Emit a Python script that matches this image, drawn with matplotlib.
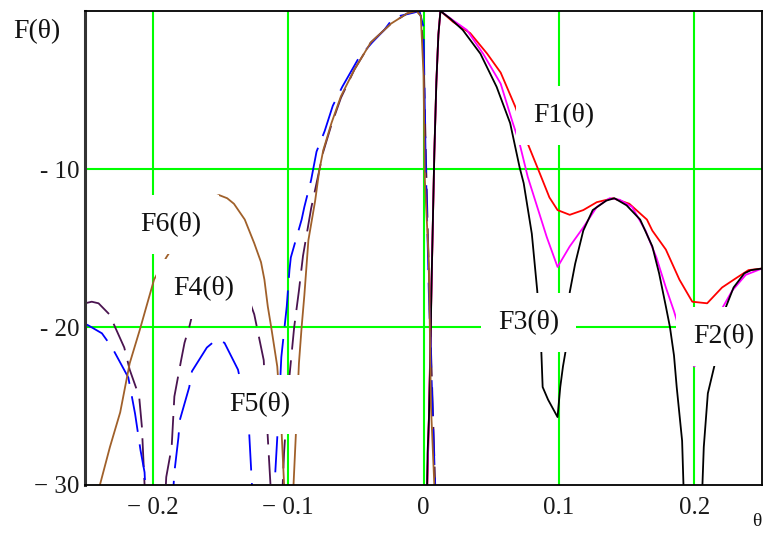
import matplotlib
matplotlib.use("Agg")
import matplotlib.pyplot as plt

# ---------------- data ----------------
theta1 = [0.0025, 0.004, 0.006, 0.008, 0.0095, 0.011, 0.0125, 0.022, 0.0345, 0.047, 0.057,
          0.068, 0.077, 0.086, 0.093, 0.099, 0.108, 0.118, 0.128, 0.140, 0.152, 0.165,
          0.169, 0.179, 0.189, 0.1985, 0.2095, 0.2205, 0.231, 0.240, 0.25]
F1 = [-31, -25.8, -17, -9, -4.5, -1.5, 0, -0.7, -1.4, -2.7, -3.9,
      -6.1, -8.4, -10.3, -11.8, -12.6, -12.9, -12.6, -12.1, -11.85, -12.2, -13.2,
      -13.9, -15.1, -17.0, -18.4, -18.5, -17.5, -16.9, -16.4, -16.3]

theta2 = [0.0025, 0.004, 0.006, 0.008, 0.0095, 0.011, 0.0125, 0.022, 0.032, 0.044, 0.057,
          0.066, 0.071, 0.077, 0.084, 0.091, 0.099, 0.108, 0.118, 0.128, 0.1375, 0.145,
          0.154, 0.164, 0.172, 0.179, 0.185, 0.192, 0.200, 0.210, 0.220, 0.228, 0.238, 0.25]
F2 = [-31, -25.8, -17, -9, -4.5, -1.5, 0, -0.6, -1.2, -2.7, -4.6,
      -7.1, -8.4, -10.5, -12.4, -14.3, -16.2, -14.9, -13.7, -12.4, -11.85, -11.95,
      -12.4, -13.9, -15.6, -17.5, -19.0, -21.0, -22.5, -21.0, -18.9, -17.7, -16.7, -16.3]

theta3 = [0.0025, 0.003, 0.004, 0.005, 0.006, 0.007, 0.008, 0.0095, 0.011, 0.0125, 0.020,
          0.029, 0.042, 0.054, 0.064, 0.071, 0.074, 0.080, 0.084, 0.087, 0.088, 0.092,
          0.099, 0.101, 0.103, 0.105, 0.108, 0.112, 0.118, 0.125, 0.135, 0.141, 0.150,
          0.160, 0.169, 0.174, 0.179, 0.182, 0.185, 0.187, 0.191, 0.192, 0.194, 0.204,
          0.206, 0.207, 0.210, 0.215, 0.2235, 0.229, 0.237, 0.242, 0.25]
F3 = [-31, -28, -25.8, -22, -17, -13, -9, -4.5, -1.5, 0, -0.5,
      -1.2, -2.7, -4.8, -7.1, -9.9, -10.9, -14.1, -17.7, -21.5, -23.8, -24.6,
      -25.7, -23.8, -22.5, -21.5, -17.8, -16.0, -13.9, -12.6, -12.0, -11.85, -12.3,
      -13.2, -14.9, -16.6, -18.7, -20.0, -21.8, -23.8, -27.2, -30, -33, -33,
      -30, -27.6, -24.2, -22.4, -18.7, -17.5, -16.6, -16.4, -16.3]

theta4 = [-0.25, -0.245, -0.240, -0.232, -0.221, -0.217, -0.210, -0.208, -0.206, -0.204,
          -0.192, -0.190, -0.186, -0.184, -0.179, -0.1765, -0.173, -0.165, -0.156, -0.147,
          -0.135, -0.125, -0.118, -0.115, -0.113, -0.112, -0.105, -0.103, -0.100, -0.0955,
          -0.092, -0.089, -0.083, -0.078, -0.074, -0.068, -0.061, -0.051, -0.039, -0.024,
          -0.012, -0.005, -0.002, 0.0, 0.002, 0.005, 0.007, 0.009]
F4 = [-18.5, -18.4, -18.5, -19.2, -21.3, -22.7, -24.4, -26.3, -30, -33,
      -33, -29.5, -27.6, -24.4, -22.1, -21.0, -20.0, -17.2, -16.3, -16.2,
      -16.8, -19.2, -22.1, -27, -30, -32, -32, -28, -24, -20,
      -17.7, -15.5, -12.5, -10.5, -8.9, -7.2, -5.5, -3.7, -2.0, -0.8,
      -0.15, 0, -0.3, -2.5, -10, -20, -25.5, -31]

theta5 = [-0.255, -0.2475, -0.2375, -0.230, -0.218, -0.213, -0.209, -0.206, -0.2045, -0.186,
          -0.184, -0.181, -0.180, -0.173, -0.171, -0.160, -0.153, -0.147, -0.137, -0.133,
          -0.129, -0.127, -0.1255, -0.111, -0.110, -0.107, -0.105, -0.101, -0.099, -0.098,
          -0.094, -0.090, -0.088, -0.083, -0.079, -0.073, -0.067, -0.060, -0.054, -0.048,
          -0.038, -0.029, -0.022, -0.007, -0.003, 0.0, 0.0015, 0.004, 0.007, 0.009]
F5 = [-19.6, -19.9, -20.4, -21.3, -23.2, -25.5, -27.8, -29.2, -32, -32,
      -29.2, -27.0, -25.9, -23.8, -22.8, -21.3, -20.8, -21.0, -22.7, -24.3,
      -26.3, -29.5, -32, -32, -30, -25.5, -21.9, -18.7, -16.4, -15.6,
      -14.4, -13.2, -12.4, -10.7, -8.9, -7.6, -6.0, -4.8, -3.9, -3.0,
      -2.0, -1.2, -0.4, -0.1, 0, -1, -9, -18, -26, -31]

theta6 = [-0.245, -0.239, -0.2316, -0.224, -0.217, -0.2096, -0.199, -0.190, -0.178, -0.165,
          -0.156, -0.151, -0.145, -0.140, -0.132, -0.125, -0.120, -0.1175, -0.115, -0.1125,
          -0.108, -0.105, -0.103, -0.101, -0.0975, -0.096, -0.094, -0.092, -0.090, -0.088,
          -0.085, -0.080, -0.077, -0.074, -0.068, -0.061, -0.051, -0.039, -0.024, -0.012,
          -0.005, -0.002, 0.0, 0.001, 0.004, 0.0055, 0.008, 0.0085]
F6 = [-33, -30, -27.6, -25.4, -22.3, -20.2, -17.0, -15.6, -14.0, -12.6,
      -11.8, -11.65, -11.85, -12.2, -13.2, -14.7, -15.9, -17.0, -18.7, -20.0,
      -22.5, -26.3, -29.9, -33, -33, -30, -26.3, -22.3, -20.0, -18.0,
      -14.5, -12.0, -10.1, -8.8, -7.1, -5.4, -3.7, -2.0, -0.8, -0.15,
      0, -0.3, -4, -10.7, -16, -25, -30, -31]

x_ticks = [-0.2, -0.1, 0.0, 0.1, 0.2]
x_tick_labels = ["\u2212 0.2", "\u2212 0.1", "0", "0.1", "0.2"]
y_ticks = [-10, -20, -30]
y_tick_labels = ["- 10", "- 20", "\u2212 30"]

series_names = ["F1(\u03b8)", "F2(\u03b8)", "F3(\u03b8)", "F4(\u03b8)", "F5(\u03b8)", "F6(\u03b8)"]
# label anchor positions (data coords)
label_pos = [(0.1035, -6.6), (0.2215, -20.6), (0.0775, -19.7),
             (-0.162, -17.6), (-0.121, -24.9), (-0.1865, -13.5)]

# ---------------- styling ----------------
plt.rcParams['font.family'] = ['Liberation Serif', 'DejaVu Serif']
W, H = 765, 533
fig = plt.figure(figsize=(W / 100, H / 100), dpi=100)
ax = fig.add_axes([85 / W, 1 - 485 / H, (762 - 85) / W, (485 - 11) / H])
ax.set_xlim(-0.25, 0.25)
ax.set_ylim(-30, 0)

for v in x_ticks:
    ax.axvline(v, color='#00ff00', lw=1.5, zorder=1)
for v in y_ticks[:-1]:
    ax.axhline(v, color='#00ff00', lw=1.5, zorder=1)

lw = 1.3
ax.plot(theta1, F1, color='#ff0000', lw=lw, zorder=2)
ax.plot(theta2, F2, color='#ff00ff', lw=lw, zorder=2.1)
ax.plot(theta3, F3, color='#000000', lw=lw, zorder=2.2)
ax.plot(theta4, F4, color='#4a1450', lw=lw, dashes=(16, 6), zorder=2.3)
ax.plot(theta5, F5, color='#0000ff', lw=lw, dashes=(20, 7), zorder=2.4)
ax.plot(theta6, F6, color='#a0602a', lw=lw, zorder=2.5)

for name, (tx, ty) in zip(series_names, label_pos):
    ax.text(tx, ty, name, fontsize=20, ha='center', va='center', color='#111111',
            zorder=5, bbox=dict(boxstyle='square,pad=0.62', fc='white', ec='none'))

ax.set_xticks(x_ticks)
ax.set_xticklabels(x_tick_labels, fontsize=18, color='#1a1a1a')
ax.set_yticks(y_ticks)
ax.set_yticklabels(y_tick_labels, fontsize=18, color='#1a1a1a')
ax.tick_params(axis='both', length=0)
ax.tick_params(axis='x', pad=9)
ax.tick_params(axis='y', pad=4)

for s in ['top', 'bottom', 'right']:
    ax.spines[s].set_linewidth(1.3)
    ax.spines[s].set_color('black')
ax.spines['left'].set_linewidth(2.2)
ax.spines['left'].set_color('#333333')
for s in ax.spines.values():
    s.set_zorder(6)

fig.text(13 / W, 1 - 32 / H, "F(\u03b8)", fontsize=20, ha='left', va='center', color='#111111')
fig.text(752 / W, 1 - 522 / H, "\u03b8", fontsize=14, ha='left', va='center', color='#111111')

fig.savefig("out.png", dpi=100)
